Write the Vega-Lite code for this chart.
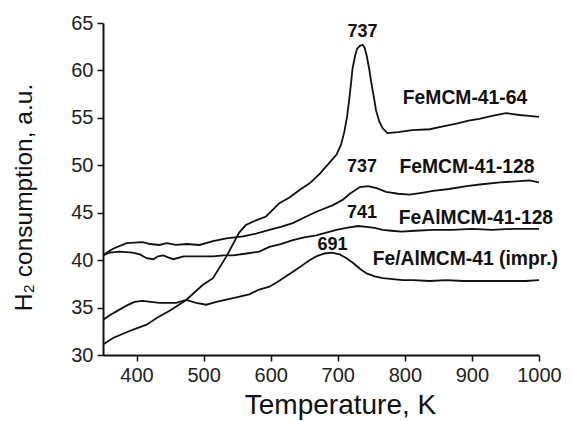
{
  "$schema": "https://vega.github.io/schema/vega-lite/v6.json",
  "width": 436,
  "height": 332,
  "autosize": {"type": "none"},
  "padding": {"left": 103, "top": 23, "right": 31, "bottom": 66},
  "background": "white",
  "config": {
    "view": {"stroke": null},
    "axis": {
      "grid": false,
      "domainColor": "#111",
      "domainWidth": 2,
      "tickColor": "#111",
      "tickWidth": 1.5,
      "labelFont": "Liberation Sans",
      "labelFontSize": 20,
      "labelColor": "#222",
      "labelOverlap": false,
      "labelFlush": false,
      "titleFont": "Liberation Sans",
      "titleFontWeight": "normal",
      "titleColor": "#111"
    }
  },
  "datasets": {
    "curves": [
      {"s": "FeMCM-41-64", "t": 350, "h": 31.1},
      {"s": "FeMCM-41-64", "t": 365, "h": 31.8},
      {"s": "FeMCM-41-64", "t": 385, "h": 32.4},
      {"s": "FeMCM-41-64", "t": 400, "h": 32.8},
      {"s": "FeMCM-41-64", "t": 415, "h": 33.2},
      {"s": "FeMCM-41-64", "t": 430, "h": 33.9},
      {"s": "FeMCM-41-64", "t": 450, "h": 34.7},
      {"s": "FeMCM-41-64", "t": 474, "h": 35.8},
      {"s": "FeMCM-41-64", "t": 499, "h": 37.4},
      {"s": "FeMCM-41-64", "t": 514, "h": 38.1},
      {"s": "FeMCM-41-64", "t": 534, "h": 40.4},
      {"s": "FeMCM-41-64", "t": 553, "h": 42.9},
      {"s": "FeMCM-41-64", "t": 563, "h": 43.7},
      {"s": "FeMCM-41-64", "t": 578, "h": 44.2},
      {"s": "FeMCM-41-64", "t": 593, "h": 44.6},
      {"s": "FeMCM-41-64", "t": 613, "h": 46.0},
      {"s": "FeMCM-41-64", "t": 628, "h": 46.6},
      {"s": "FeMCM-41-64", "t": 643, "h": 47.4},
      {"s": "FeMCM-41-64", "t": 658, "h": 48.1},
      {"s": "FeMCM-41-64", "t": 673, "h": 49.1},
      {"s": "FeMCM-41-64", "t": 688, "h": 50.3},
      {"s": "FeMCM-41-64", "t": 698, "h": 51.1},
      {"s": "FeMCM-41-64", "t": 705, "h": 52.2},
      {"s": "FeMCM-41-64", "t": 710, "h": 53.6},
      {"s": "FeMCM-41-64", "t": 714, "h": 55.2},
      {"s": "FeMCM-41-64", "t": 717, "h": 56.9},
      {"s": "FeMCM-41-64", "t": 720, "h": 58.8},
      {"s": "FeMCM-41-64", "t": 722, "h": 60.2},
      {"s": "FeMCM-41-64", "t": 726, "h": 61.6},
      {"s": "FeMCM-41-64", "t": 729, "h": 62.3},
      {"s": "FeMCM-41-64", "t": 733, "h": 62.6},
      {"s": "FeMCM-41-64", "t": 737, "h": 62.7},
      {"s": "FeMCM-41-64", "t": 740, "h": 62.4},
      {"s": "FeMCM-41-64", "t": 743, "h": 61.6},
      {"s": "FeMCM-41-64", "t": 747, "h": 60.1},
      {"s": "FeMCM-41-64", "t": 750, "h": 58.7},
      {"s": "FeMCM-41-64", "t": 754, "h": 57.1},
      {"s": "FeMCM-41-64", "t": 757, "h": 55.8},
      {"s": "FeMCM-41-64", "t": 762, "h": 54.6},
      {"s": "FeMCM-41-64", "t": 767, "h": 53.9},
      {"s": "FeMCM-41-64", "t": 774, "h": 53.4},
      {"s": "FeMCM-41-64", "t": 790, "h": 53.5},
      {"s": "FeMCM-41-64", "t": 811, "h": 53.7},
      {"s": "FeMCM-41-64", "t": 837, "h": 53.8},
      {"s": "FeMCM-41-64", "t": 857, "h": 54.1},
      {"s": "FeMCM-41-64", "t": 877, "h": 54.4},
      {"s": "FeMCM-41-64", "t": 895, "h": 54.7},
      {"s": "FeMCM-41-64", "t": 911, "h": 54.9},
      {"s": "FeMCM-41-64", "t": 930, "h": 55.2},
      {"s": "FeMCM-41-64", "t": 951, "h": 55.5},
      {"s": "FeMCM-41-64", "t": 961, "h": 55.4},
      {"s": "FeMCM-41-64", "t": 971, "h": 55.3},
      {"s": "FeMCM-41-64", "t": 985, "h": 55.2},
      {"s": "FeMCM-41-64", "t": 1000, "h": 55.1},

      {"s": "FeMCM-41-128", "t": 350, "h": 40.5},
      {"s": "FeMCM-41-128", "t": 358, "h": 40.9},
      {"s": "FeMCM-41-128", "t": 365, "h": 41.2},
      {"s": "FeMCM-41-128", "t": 385, "h": 41.8},
      {"s": "FeMCM-41-128", "t": 409, "h": 41.9},
      {"s": "FeMCM-41-128", "t": 420, "h": 41.7},
      {"s": "FeMCM-41-128", "t": 434, "h": 41.6},
      {"s": "FeMCM-41-128", "t": 445, "h": 41.8},
      {"s": "FeMCM-41-128", "t": 459, "h": 41.6},
      {"s": "FeMCM-41-128", "t": 475, "h": 41.7},
      {"s": "FeMCM-41-128", "t": 494, "h": 41.6},
      {"s": "FeMCM-41-128", "t": 514, "h": 42.0},
      {"s": "FeMCM-41-128", "t": 534, "h": 42.3},
      {"s": "FeMCM-41-128", "t": 559, "h": 42.5},
      {"s": "FeMCM-41-128", "t": 578, "h": 42.8},
      {"s": "FeMCM-41-128", "t": 598, "h": 43.2},
      {"s": "FeMCM-41-128", "t": 615, "h": 43.5},
      {"s": "FeMCM-41-128", "t": 633, "h": 43.9},
      {"s": "FeMCM-41-128", "t": 650, "h": 44.5},
      {"s": "FeMCM-41-128", "t": 668, "h": 45.1},
      {"s": "FeMCM-41-128", "t": 693, "h": 45.8},
      {"s": "FeMCM-41-128", "t": 708, "h": 46.4},
      {"s": "FeMCM-41-128", "t": 718, "h": 47.0},
      {"s": "FeMCM-41-128", "t": 733, "h": 47.7},
      {"s": "FeMCM-41-128", "t": 745, "h": 47.8},
      {"s": "FeMCM-41-128", "t": 758, "h": 47.6},
      {"s": "FeMCM-41-128", "t": 772, "h": 47.2},
      {"s": "FeMCM-41-128", "t": 790, "h": 47.0},
      {"s": "FeMCM-41-128", "t": 807, "h": 46.9},
      {"s": "FeMCM-41-128", "t": 825, "h": 47.1},
      {"s": "FeMCM-41-128", "t": 842, "h": 47.3},
      {"s": "FeMCM-41-128", "t": 866, "h": 47.5},
      {"s": "FeMCM-41-128", "t": 892, "h": 47.8},
      {"s": "FeMCM-41-128", "t": 915, "h": 48.0},
      {"s": "FeMCM-41-128", "t": 942, "h": 48.2},
      {"s": "FeMCM-41-128", "t": 966, "h": 48.3},
      {"s": "FeMCM-41-128", "t": 986, "h": 48.4},
      {"s": "FeMCM-41-128", "t": 1000, "h": 48.2},

      {"s": "FeAlMCM-41-128", "t": 350, "h": 40.5},
      {"s": "FeAlMCM-41-128", "t": 360, "h": 40.8},
      {"s": "FeAlMCM-41-128", "t": 375, "h": 40.9},
      {"s": "FeAlMCM-41-128", "t": 394, "h": 40.8},
      {"s": "FeAlMCM-41-128", "t": 405, "h": 40.6},
      {"s": "FeAlMCM-41-128", "t": 415, "h": 40.2},
      {"s": "FeAlMCM-41-128", "t": 425, "h": 40.1},
      {"s": "FeAlMCM-41-128", "t": 432, "h": 40.4},
      {"s": "FeAlMCM-41-128", "t": 440, "h": 40.5},
      {"s": "FeAlMCM-41-128", "t": 447, "h": 40.3},
      {"s": "FeAlMCM-41-128", "t": 455, "h": 40.1},
      {"s": "FeAlMCM-41-128", "t": 470, "h": 40.4},
      {"s": "FeAlMCM-41-128", "t": 484, "h": 40.4},
      {"s": "FeAlMCM-41-128", "t": 500, "h": 40.4},
      {"s": "FeAlMCM-41-128", "t": 514, "h": 40.4},
      {"s": "FeAlMCM-41-128", "t": 530, "h": 40.5},
      {"s": "FeAlMCM-41-128", "t": 544, "h": 40.5},
      {"s": "FeAlMCM-41-128", "t": 564, "h": 40.7},
      {"s": "FeAlMCM-41-128", "t": 583, "h": 40.9},
      {"s": "FeAlMCM-41-128", "t": 598, "h": 41.4},
      {"s": "FeAlMCM-41-128", "t": 615, "h": 41.7},
      {"s": "FeAlMCM-41-128", "t": 633, "h": 42.1},
      {"s": "FeAlMCM-41-128", "t": 650, "h": 42.4},
      {"s": "FeAlMCM-41-128", "t": 668, "h": 42.6},
      {"s": "FeAlMCM-41-128", "t": 683, "h": 42.9},
      {"s": "FeAlMCM-41-128", "t": 698, "h": 43.2},
      {"s": "FeAlMCM-41-128", "t": 713, "h": 43.4},
      {"s": "FeAlMCM-41-128", "t": 730, "h": 43.6},
      {"s": "FeAlMCM-41-128", "t": 743, "h": 43.5},
      {"s": "FeAlMCM-41-128", "t": 755, "h": 43.4},
      {"s": "FeAlMCM-41-128", "t": 767, "h": 43.2},
      {"s": "FeAlMCM-41-128", "t": 780, "h": 43.1},
      {"s": "FeAlMCM-41-128", "t": 795, "h": 43.0},
      {"s": "FeAlMCM-41-128", "t": 815, "h": 43.1},
      {"s": "FeAlMCM-41-128", "t": 842, "h": 43.2},
      {"s": "FeAlMCM-41-128", "t": 870, "h": 43.2},
      {"s": "FeAlMCM-41-128", "t": 900, "h": 43.3},
      {"s": "FeAlMCM-41-128", "t": 930, "h": 43.2},
      {"s": "FeAlMCM-41-128", "t": 961, "h": 43.3},
      {"s": "FeAlMCM-41-128", "t": 985, "h": 43.3},
      {"s": "FeAlMCM-41-128", "t": 1000, "h": 43.3},

      {"s": "Fe/AlMCM-41 (impr.)", "t": 350, "h": 33.7},
      {"s": "Fe/AlMCM-41 (impr.)", "t": 360, "h": 34.2},
      {"s": "Fe/AlMCM-41 (impr.)", "t": 370, "h": 34.6},
      {"s": "Fe/AlMCM-41 (impr.)", "t": 385, "h": 35.2},
      {"s": "Fe/AlMCM-41 (impr.)", "t": 397, "h": 35.6},
      {"s": "Fe/AlMCM-41 (impr.)", "t": 409, "h": 35.7},
      {"s": "Fe/AlMCM-41 (impr.)", "t": 434, "h": 35.5},
      {"s": "Fe/AlMCM-41 (impr.)", "t": 459, "h": 35.5},
      {"s": "Fe/AlMCM-41 (impr.)", "t": 474, "h": 35.8},
      {"s": "Fe/AlMCM-41 (impr.)", "t": 489, "h": 35.5},
      {"s": "Fe/AlMCM-41 (impr.)", "t": 504, "h": 35.3},
      {"s": "Fe/AlMCM-41 (impr.)", "t": 519, "h": 35.6},
      {"s": "Fe/AlMCM-41 (impr.)", "t": 544, "h": 36.0},
      {"s": "Fe/AlMCM-41 (impr.)", "t": 568, "h": 36.4},
      {"s": "Fe/AlMCM-41 (impr.)", "t": 583, "h": 36.9},
      {"s": "Fe/AlMCM-41 (impr.)", "t": 598, "h": 37.2},
      {"s": "Fe/AlMCM-41 (impr.)", "t": 610, "h": 37.7},
      {"s": "Fe/AlMCM-41 (impr.)", "t": 623, "h": 38.3},
      {"s": "Fe/AlMCM-41 (impr.)", "t": 636, "h": 38.9},
      {"s": "Fe/AlMCM-41 (impr.)", "t": 648, "h": 39.5},
      {"s": "Fe/AlMCM-41 (impr.)", "t": 658, "h": 40.0},
      {"s": "Fe/AlMCM-41 (impr.)", "t": 668, "h": 40.4},
      {"s": "Fe/AlMCM-41 (impr.)", "t": 680, "h": 40.7},
      {"s": "Fe/AlMCM-41 (impr.)", "t": 691, "h": 40.8},
      {"s": "Fe/AlMCM-41 (impr.)", "t": 703, "h": 40.6},
      {"s": "Fe/AlMCM-41 (impr.)", "t": 713, "h": 40.2},
      {"s": "Fe/AlMCM-41 (impr.)", "t": 723, "h": 39.7},
      {"s": "Fe/AlMCM-41 (impr.)", "t": 733, "h": 39.1},
      {"s": "Fe/AlMCM-41 (impr.)", "t": 743, "h": 38.6},
      {"s": "Fe/AlMCM-41 (impr.)", "t": 755, "h": 38.3},
      {"s": "Fe/AlMCM-41 (impr.)", "t": 767, "h": 38.1},
      {"s": "Fe/AlMCM-41 (impr.)", "t": 782, "h": 38.0},
      {"s": "Fe/AlMCM-41 (impr.)", "t": 797, "h": 37.9},
      {"s": "Fe/AlMCM-41 (impr.)", "t": 812, "h": 37.9},
      {"s": "Fe/AlMCM-41 (impr.)", "t": 837, "h": 37.8},
      {"s": "Fe/AlMCM-41 (impr.)", "t": 862, "h": 37.9},
      {"s": "Fe/AlMCM-41 (impr.)", "t": 887, "h": 37.8},
      {"s": "Fe/AlMCM-41 (impr.)", "t": 911, "h": 37.8},
      {"s": "Fe/AlMCM-41 (impr.)", "t": 936, "h": 37.8},
      {"s": "Fe/AlMCM-41 (impr.)", "t": 961, "h": 37.8},
      {"s": "Fe/AlMCM-41 (impr.)", "t": 980, "h": 37.8},
      {"s": "Fe/AlMCM-41 (impr.)", "t": 1000, "h": 37.9}
    ],
    "names": [
      {"label": "FeMCM-41-64", "t": 797, "h": 57.1},
      {"label": "FeMCM-41-128", "t": 792, "h": 49.8},
      {"label": "FeAlMCM-41-128", "t": 791, "h": 44.4},
      {"label": "Fe/AlMCM-41 (impr.)", "t": 752, "h": 40.1}
    ],
    "peaks": [
      {"label": "737", "t": 737, "h": 64.1},
      {"label": "737", "t": 736, "h": 49.8},
      {"label": "741", "t": 736, "h": 45.0},
      {"label": "691", "t": 692, "h": 41.6}
    ]
  },
  "layer": [
    {
      "data": {"name": "curves"},
      "mark": {"type": "line", "color": "#111", "strokeWidth": 1.8, "clip": true},
      "encoding": {
        "x": {
          "field": "t",
          "type": "quantitative",
          "scale": {"domain": [350, 1000], "nice": false, "zero": false},
          "axis": {
            "title": "Temperature, K",
            "titleFontSize": 28,
            "values": [400, 450, 500, 550, 600, 650, 700, 750, 800, 850, 900, 950, 1000],
            "format": "d",
            "labelExpr": "datum.value % 100 === 0 ? datum.label : ''",
            "tickSize": 6,
            "labelPadding": 4,
            "titlePadding": 6,
            "titleX": 237
          }
        },
        "y": {
          "field": "h",
          "type": "quantitative",
          "scale": {"domain": [30, 65], "nice": false, "zero": false},
          "axis": {
            "title": "H₂ consumption, a.u.",
            "titleFontSize": 24.5,
            "titleY": 174,
            "values": [30, 32.5, 35, 37.5, 40, 42.5, 45, 47.5, 50, 52.5, 55, 57.5, 60, 62.5, 65],
            "labelExpr": "datum.value % 5 === 0 ? datum.label : ''",
            "tickSize": {"condition": {"test": "datum.value % 5 === 0", "value": 6}, "value": 3},
            "labelPadding": 4,
            "titlePadding": 34
          }
        },
        "detail": {"field": "s", "type": "nominal"}
      }
    },
    {
      "data": {"name": "names"},
      "mark": {"type": "text", "align": "left", "baseline": "middle", "font": "Liberation Sans", "fontWeight": "bold", "fontSize": 19.3, "color": "#111"},
      "encoding": {
        "x": {"field": "t", "type": "quantitative"},
        "y": {"field": "h", "type": "quantitative"},
        "text": {"field": "label"}
      }
    },
    {
      "data": {"name": "peaks"},
      "mark": {"type": "text", "align": "center", "baseline": "middle", "font": "Liberation Sans", "fontWeight": "bold", "fontSize": 18, "color": "#111"},
      "encoding": {
        "x": {"field": "t", "type": "quantitative"},
        "y": {"field": "h", "type": "quantitative"},
        "text": {"field": "label"}
      }
    }
  ]
}
